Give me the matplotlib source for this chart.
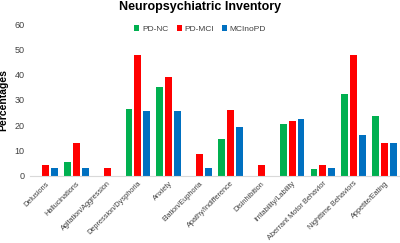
import numpy as np
import matplotlib.pyplot as plt

# Neuropsychiatric Inventory: percentage of each group with the symptom
categories = ['Delusions', 'Hallucinations', 'Agitation/Aggression', 'Depression/Dysphoria',
              'Anxiety', 'Elation/Euphoria', 'Apathy/Indifference', 'Disinhibition',
              'Irritability/Lability', 'Aberrant Motor Behavior', 'Nighttime Behaviors',
              'Appetite/Eating']
pd_nc = [0, 5.7, 0, 26.6, 35.3, 0, 14.7, 0, 20.6, 2.9, 32.4, 23.5]
pd_mci = [4.3, 13.0, 3.2, 47.8, 39.1, 8.7, 26.1, 4.3, 21.7, 4.3, 47.8, 13.0]
mci_nopd = [3.2, 3.2, 0, 25.8, 25.8, 3.2, 19.4, 0, 22.6, 3.2, 16.1, 12.9]

plt.rcParams['font.family'] = ['Liberation Sans Narrow', 'Liberation Sans', 'DejaVu Sans']

fig = plt.figure(figsize=(4, 2.43), dpi=100)
ax = fig.add_axes([0.075, 0.276, 0.925, 0.625])

x = np.arange(len(categories))
w = 0.225
off = 0.29
ax.bar(x - off, pd_nc, w, color='#00B050', label='PD-NC')
ax.bar(x, pd_mci, w, color='#FF0000', label='PD-MCI')
ax.bar(x + off, mci_nopd, w, color='#0070C0', label='MCInoPD')

ax.set_xlim(-0.5, len(categories) - 0.5)
ax.set_ylim(0, 60)
ax.set_yticks([0, 10, 20, 30, 40, 50, 60])
ax.tick_params(axis='y', length=0, labelsize=6.5, colors='#404040', pad=4)
ax.tick_params(axis='x', length=0, pad=3)
ax.set_xticks(x)
ax.set_xticklabels(categories, rotation=45, ha='right', rotation_mode='anchor',
                   fontsize=5.3, color='#404040')

for s in ['top', 'right', 'left']:
    ax.spines[s].set_visible(False)
ax.spines['bottom'].set_color('#D9D9D9')

ax.set_ylabel('Percentages', fontsize=7.5, fontweight='bold',
              family=['Liberation Sans', 'DejaVu Sans'])
ax.yaxis.set_label_coords(-0.058, 0.5)
fig.text(0.5, 0.995, 'Neuropsychiatric Inventory', ha='center', va='top',
         fontsize=9, fontweight='bold', family=['Liberation Sans', 'DejaVu Sans'])
ax.legend(loc='upper center', bbox_to_anchor=(0.46, 1.04), ncol=3, frameon=False,
          prop={'size': 6, 'family': ['Liberation Sans', 'DejaVu Sans']},
          handlelength=0.6, handleheight=0.6, columnspacing=1.0,
          handletextpad=0.3, labelcolor='#404040')

fig.savefig('out.png', dpi=100)
